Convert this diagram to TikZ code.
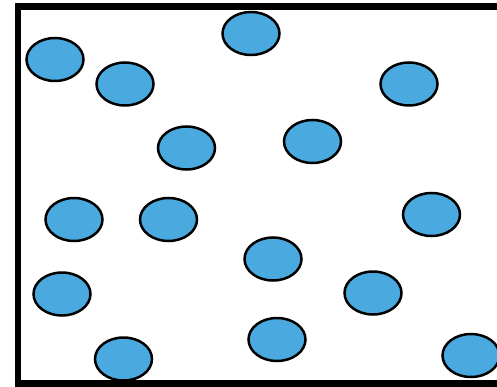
\documentclass[tikz,border=0pt]{standalone}
\usetikzlibrary{shapes.geometric}
\definecolor{ballblue}{RGB}{74,170,224}
\tikzset{
  ball/.style={ellipse, draw=black, fill=ballblue, line width=2.5pt,
    minimum width=57pt, minimum height=43pt, inner sep=0pt},
  frame/.style={draw=black, line width=6.5pt, line join=miter}
}
\begin{document}
\begin{tikzpicture}[x=1pt,y=-1pt]
\useasboundingbox (0,0) rectangle (497,387);
\clip (0,0) rectangle (497,387);
\coordinate (tr) at (510,6.3);
\coordinate (tl) at (18,6.3);
\coordinate (bl) at (18,383.5);
\coordinate (br) at (510,383.5);
\draw[frame] (tr) -- (tl) -- (bl) -- (br);
\node[ball] (b1) at (55,59.5) {};
\node[ball] (b2) at (125,84) {};
\node[ball] (b3) at (251,33.5) {};
\node[ball] (b4) at (409,84) {};
\node[ball] (b5) at (186.5,148) {};
\node[ball] (b6) at (312.5,141.5) {};
\node[ball] (b7) at (74,219.5) {};
\node[ball] (b8) at (168.5,219.5) {};
\node[ball] (b9) at (431.5,214.5) {};
\node[ball] (b10) at (273,259) {};
\node[ball] (b11) at (62,294) {};
\node[ball] (b12) at (373,293) {};
\node[ball] (b13) at (123.5,359) {};
\node[ball] (b14) at (277,339.5) {};
\node[ball] (b15) at (471,355.5) {};
\end{tikzpicture}
\end{document}
